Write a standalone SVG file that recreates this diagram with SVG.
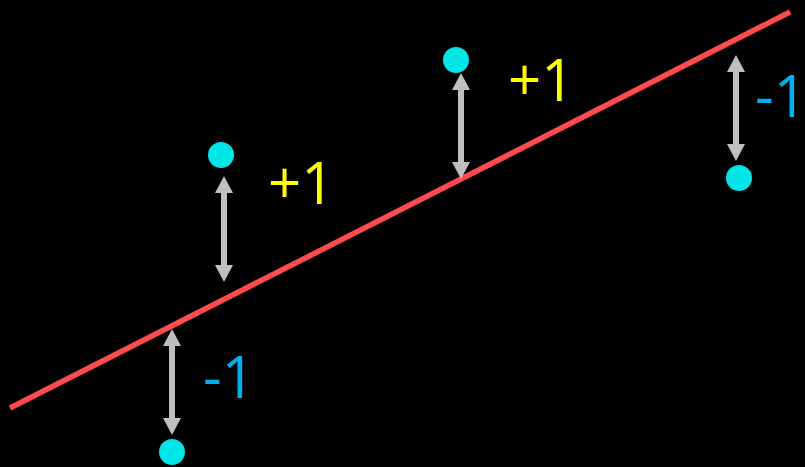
<svg xmlns="http://www.w3.org/2000/svg" width="805" height="467" viewBox="0 0 805 467">
<defs>
<style>
.pt{fill:#00E6E6}
.arr{stroke:#BFBFBF;stroke-width:6;fill:none;marker-start:url(#ah);marker-end:url(#ah)}
.lbl{font-family:"Open Sans","Liberation Sans",sans-serif;font-size:58px}
.pos{fill:#FFFF00}
.neg{fill:#00B0F0}
</style>
<marker id="ah" markerUnits="userSpaceOnUse" markerWidth="20" markerHeight="20" viewBox="0 0 20 20" refX="0" refY="10" orient="auto-start-reverse">
<path d="M0,1 L17,10 L0,19 Z" fill="#BFBFBF"/>
</marker>
</defs>
<rect width="805" height="467" fill="#000"/>
<g id="connectors">
<line x1="10" y1="408" x2="790" y2="12" stroke="#FF4B4B" stroke-width="5.5"/>
<line class="arr" x1="172" y1="346" x2="172" y2="418"/>
<line class="arr" x1="224" y1="193" x2="224" y2="265"/>
<line class="arr" x1="461" y1="90" x2="461" y2="162"/>
<line class="arr" x1="736" y1="72" x2="736" y2="144"/>
</g>
<g id="p1"><circle class="pt" cx="172" cy="452" r="13"/><text class="lbl neg" x="203" y="398">-1</text></g>
<g id="p2"><circle class="pt" cx="221" cy="155" r="13"/><text class="lbl pos" x="268" y="204">+1</text></g>
<g id="p3"><circle class="pt" cx="456" cy="60" r="13"/><text class="lbl pos" x="508" y="101">+1</text></g>
<g id="p4"><circle class="pt" cx="739" cy="178" r="13"/><text class="lbl neg" x="755" y="117">-1</text></g>
</svg>
